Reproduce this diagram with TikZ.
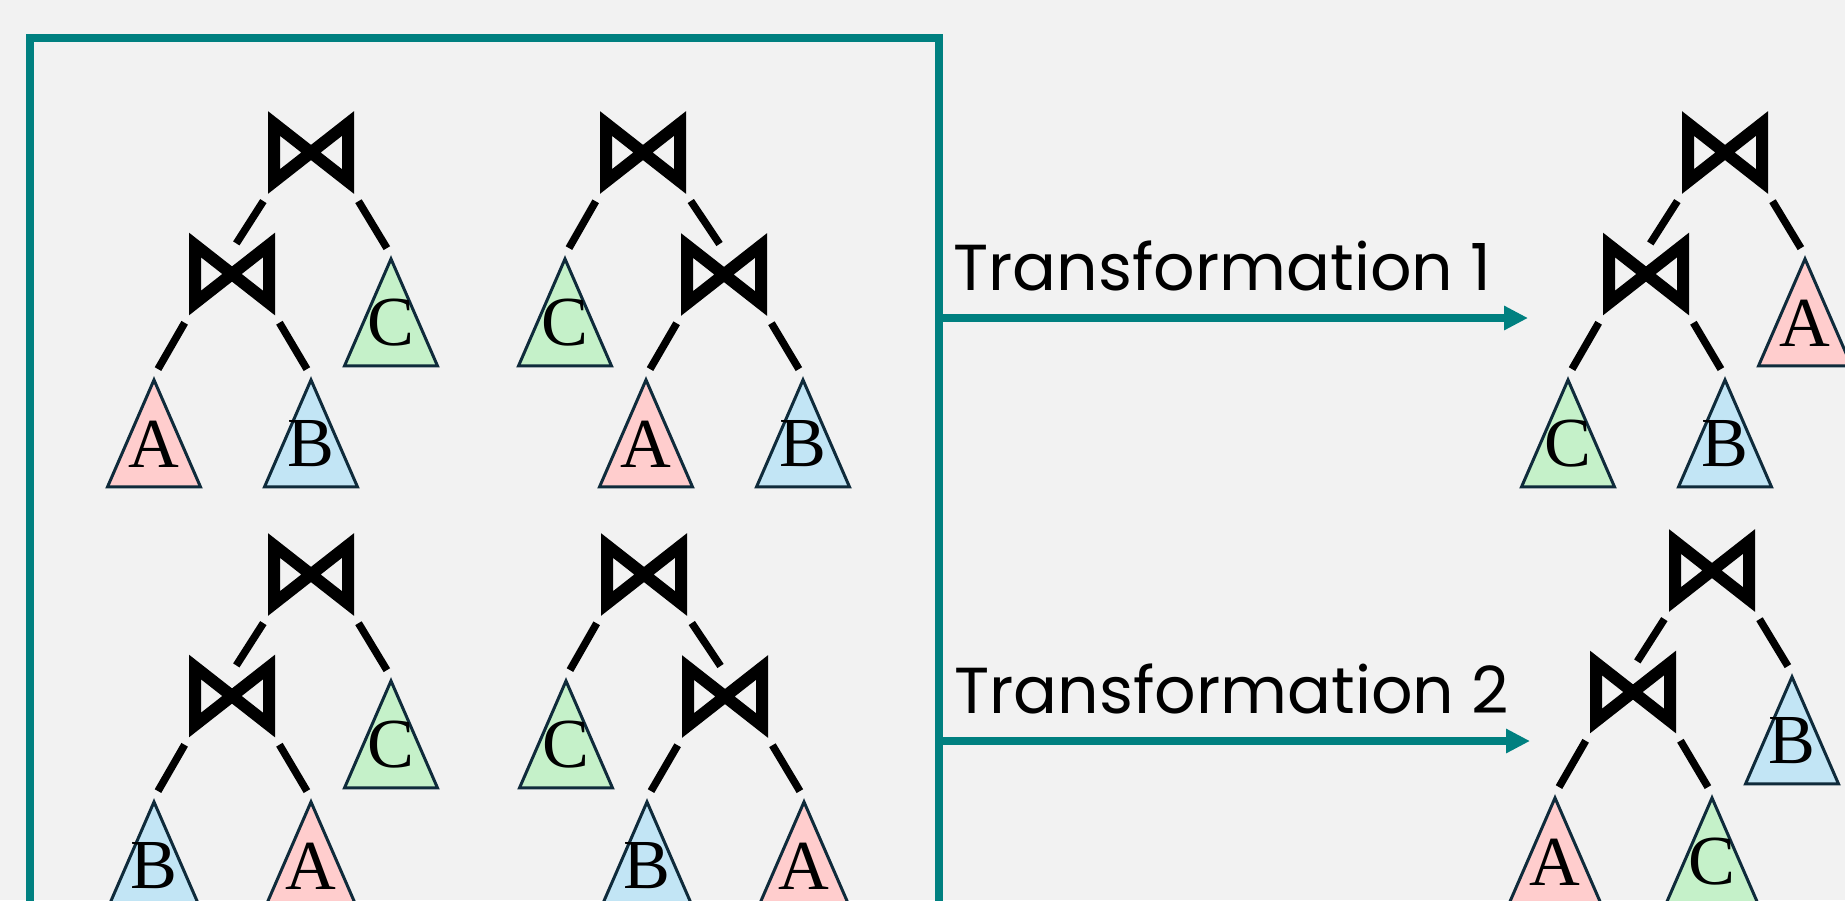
\documentclass[tikz,border=0pt]{standalone}
\usepackage{fontspec}
\setmainfont{Liberation Serif}
\newfontfamily\captionfont{Poppins}
\usetikzlibrary{shapes.geometric}
\usetikzlibrary{arrows.meta}

\definecolor{canvas}{HTML}{F2F2F2}
\definecolor{frame}{HTML}{008080}
\definecolor{relA}{HTML}{FFCDCD}
\definecolor{relB}{HTML}{C2E5F5}
\definecolor{relC}{HTML}{C5F1C9}
\definecolor{rim}{HTML}{0F2B3B}

\tikzset{
    joinop/.style={minimum width=1.72cm, minimum height=1.66cm, inner sep=0},
    bowtie/.style={line width=0.24cm, line join=miter},
    leaf/.style={isosceles triangle, isosceles triangle stretches,
        shape border rotate=90, minimum width=1.86cm, minimum height=2.14cm,
        inner sep=0, draw=rim, line width=0.06cm,
        text height=0pt, text depth=0.16cm,
        font=\fontsize{40}{40}\selectfont, anchor=apex},
    link/.style={line width=0.15cm, shorten <=0.16cm, shorten >=0.16cm},
    flow/.style={draw=frame, line width=0.16cm,
        -{Triangle[length=0.48cm, width=0.46cm]}},
    title/.style={font=\captionfont\fontsize{37}{40}\selectfont,
        inner sep=0, anchor=base west}
}

\begin{document}
\begin{tikzpicture}[x=0.02cm, y=-0.02cm]

    \fill[canvas] (0,0) rectangle (1845,900);
    \useasboundingbox (0,0) rectangle (1845,900);
    \clip (0,0) rectangle (1845,900);

    % frame around the four join orders
    \draw[frame, line width=0.16cm] (30,38) rectangle (938.5,960);

    % left-deep trees
    \node[joinop] (t1) at (311,152.5) {};
    \node[joinop] (t1m) at (232,274) {};
    \node[leaf, fill=relA] (t1A) at (154,376) {A};
    \node[leaf, fill=relB] (t1B) at (311,376) {B};
    \node[leaf, fill=relC] (t1C) at (391,255) {C};

    \begin{scope}[shift={(0,422)}]
        \node[joinop] (t3) at (311,152.5) {};
        \node[joinop] (t3m) at (232,274) {};
        \node[leaf, fill=relB] (t3B) at (154,376) {B};
        \node[leaf, fill=relA] (t3A) at (311,376) {A};
        \node[leaf, fill=relC] (t3C) at (391,255) {C};
    \end{scope}

    \begin{scope}[shift={(1414,0)}]
        \node[joinop] (t5) at (311,152.5) {};
        \node[joinop] (t5m) at (232,274) {};
        \node[leaf, fill=relC] (t5C) at (154,376) {C};
        \node[leaf, fill=relB] (t5B) at (311,376) {B};
        \node[leaf, fill=relA] (t5A) at (391,255) {A};
    \end{scope}

    \begin{scope}[shift={(1401,418)}]
        \node[joinop] (t6) at (311,152.5) {};
        \node[joinop] (t6m) at (232,274) {};
        \node[leaf, fill=relA] (t6A) at (154,376) {A};
        \node[leaf, fill=relC] (t6C) at (311,376) {C};
        \node[leaf, fill=relB] (t6B) at (391,255) {B};
    \end{scope}

    % right-deep trees
    \node[joinop] (t2) at (643,152.5) {};
    \node[joinop] (t2m) at (724,274.5) {};
    \node[leaf, fill=relC] (t2C) at (565,255) {C};
    \node[leaf, fill=relA] (t2A) at (646,376) {A};
    \node[leaf, fill=relB] (t2B) at (803,376) {B};

    \begin{scope}[shift={(1,422)}]
        \node[joinop] (t4) at (643,152.5) {};
        \node[joinop] (t4m) at (724,274.5) {};
        \node[leaf, fill=relC] (t4C) at (565,255) {C};
        \node[leaf, fill=relB] (t4B) at (646,376) {B};
        \node[leaf, fill=relA] (t4A) at (803,376) {A};
    \end{scope}

    % the join symbols
    \foreach \j in {t1,t1m,t2,t2m,t3,t3m,t4,t4m,t5,t5m,t6,t6m}
        \draw[bowtie, shift={(\j.center)}]
            (-37,-29) -- (-37,29) -- (0,0) -- cycle
            (37,-29) -- (37,29) -- (0,0) -- cycle;

    \begin{scope}[link]
        \draw (t1.south west) -- ([yshift=-0.36cm]t1m.north);
        \draw (t1.south east) -- (t1C.apex);
        \draw (t1m.south west) -- (t1A.apex);
        \draw (t1m.south east) -- (t1B.apex);

        \draw (t3.south west) -- ([yshift=-0.36cm]t3m.north);
        \draw (t3.south east) -- (t3C.apex);
        \draw (t3m.south west) -- (t3B.apex);
        \draw (t3m.south east) -- (t3A.apex);

        \draw (t5.south west) -- ([yshift=-0.36cm]t5m.north);
        \draw (t5.south east) -- (t5A.apex);
        \draw (t5m.south west) -- (t5C.apex);
        \draw (t5m.south east) -- (t5B.apex);

        \draw (t6.south west) -- ([yshift=-0.36cm]t6m.north);
        \draw (t6.south east) -- (t6B.apex);
        \draw (t6m.south west) -- (t6A.apex);
        \draw (t6m.south east) -- (t6C.apex);

        \draw (t2.south west) -- (t2C.apex);
        \draw (t2.south east) -- ([yshift=-0.36cm]t2m.north);
        \draw (t2m.south west) -- (t2A.apex);
        \draw (t2m.south east) -- (t2B.apex);

        \draw (t4.south west) -- (t4C.apex);
        \draw (t4.south east) -- ([yshift=-0.36cm]t4m.north);
        \draw (t4m.south west) -- (t4B.apex);
        \draw (t4m.south east) -- (t4A.apex);
    \end{scope}

    % the two rewrites
    \coordinate (from1) at (938.5,318);
    \coordinate (to1) at (1528,318);
    \coordinate (from2) at (938.5,741);
    \coordinate (to2) at (1530,741);
    \draw[flow] (from1) -- (to1);
    \draw[flow] (from2) -- (to2);
    \node[title] (cap1) at (953,290) {Transformation 1};
    \node[title] (cap2) at (954,713) {Transformation 2};

\end{tikzpicture}
\end{document}
